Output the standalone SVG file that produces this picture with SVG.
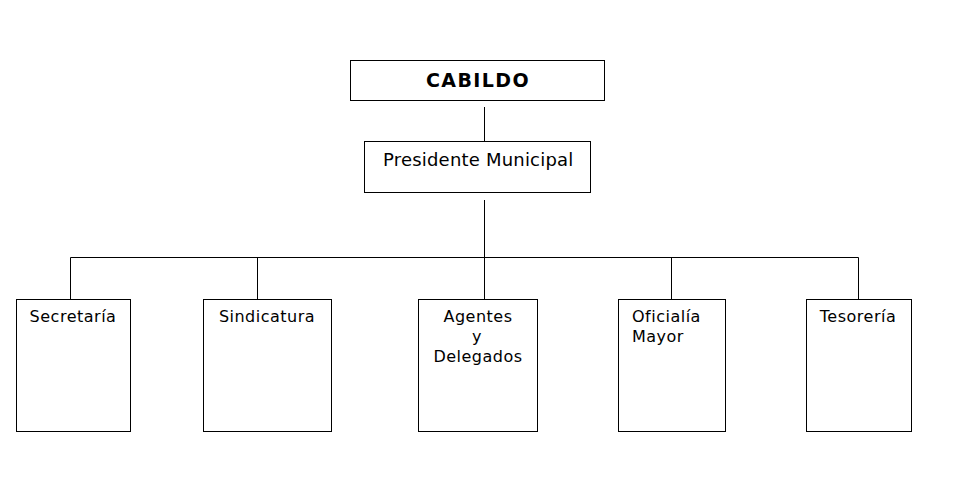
<svg xmlns="http://www.w3.org/2000/svg" width="959" height="479" viewBox="0 0 959 479">
<style>
.box{fill:#fff;stroke:#000;stroke-width:1}
.ln{stroke:#000;stroke-width:1;fill:none}
text{font-family:"DejaVu Sans",Verdana,sans-serif;font-size:16px;letter-spacing:0.5px;fill:#000}
.c{text-anchor:middle}
</style>
<rect width="959" height="479" fill="#fff"/>
<g id="connectors">
<line class="ln" x1="484.5" y1="107" x2="484.5" y2="141"/>
<line class="ln" x1="484.5" y1="200" x2="484.5" y2="257.5"/>
<line class="ln" x1="70.5" y1="257.5" x2="858.5" y2="257.5"/>
<line class="ln" x1="70.5" y1="257.5" x2="70.5" y2="299"/>
<line class="ln" x1="257.5" y1="257.5" x2="257.5" y2="299"/>
<line class="ln" x1="484.5" y1="257.5" x2="484.5" y2="299"/>
<line class="ln" x1="671.5" y1="257.5" x2="671.5" y2="299"/>
<line class="ln" x1="858.5" y1="257.5" x2="858.5" y2="299"/>
</g>
<g id="cabildo">
<rect class="box" x="350.5" y="60.5" width="254" height="40"/>
<text class="c" x="478" y="87" style="font-weight:bold;font-size:19px;letter-spacing:1.4px">CABILDO</text>
</g>
<g id="presidente">
<rect class="box" x="364.5" y="141.5" width="226" height="51"/>
<text x="383" y="166" style="font-size:18px;letter-spacing:0.2px">Presidente Municipal</text>
</g>
<g id="secretaria">
<rect class="box" x="16.5" y="299.5" width="114" height="132"/>
<text class="c" x="73" y="322">Secretaría</text>
</g>
<g id="sindicatura">
<rect class="box" x="203.5" y="299.5" width="128" height="132"/>
<text class="c" x="267" y="322">Sindicatura</text>
</g>
<g id="agentes">
<rect class="box" x="418.5" y="299.5" width="119" height="132"/>
<text class="c" x="478" y="322">Agentes</text>
<text class="c" x="477" y="342">y</text>
<text class="c" x="478" y="362">Delegados</text>
</g>
<g id="oficialia">
<rect class="box" x="618.5" y="299.5" width="107" height="132"/>
<text x="632" y="322">Oficialía</text>
<text x="632" y="342">Mayor</text>
</g>
<g id="tesoreria">
<rect class="box" x="806.5" y="299.5" width="105" height="132"/>
<text class="c" x="858" y="322">Tesorería</text>
</g>
</svg>
